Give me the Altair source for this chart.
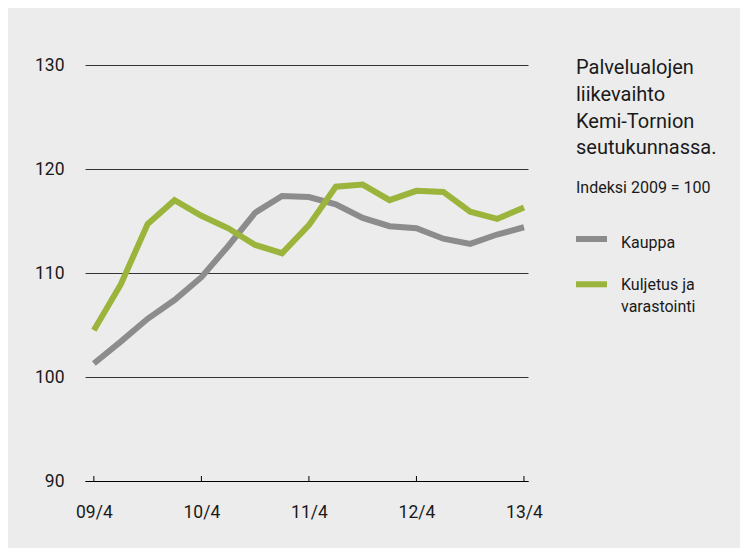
import altair as alt
import pandas as pd

# ---- data ----
quarters = ["09/4", "10/1", "10/2", "10/3", "10/4", "11/1", "11/2", "11/3", "11/4",
            "12/1", "12/2", "12/3", "12/4", "13/1", "13/2", "13/3", "13/4"]
kauppa = [101.3, 103.4, 105.6, 107.4, 109.6, 112.6, 115.8, 117.4, 117.3,
          116.6, 115.3, 114.5, 114.3, 113.3, 112.8, 113.7, 114.4]
kuljetus = [104.5, 108.9, 114.7, 117.0, 115.5, 114.3, 112.7, 111.9, 114.6,
            118.3, 118.5, 117.0, 117.9, 117.8, 115.9, 115.2, 116.3]
series = ["Kauppa", "Kuljetus ja varastointi"]
colors = ["#8c8c8c", "#9bb43b"]
y_ticks = [90, 100, 110, 120, 130]
x_tick_idx = [0, 4, 8, 12, 16]
heading = ["Palvelualojen", "liikevaihto", "Kemi-Tornion", "seutukunnassa."]
subtitle = "Indeksi 2009 = 100"
legend_labels = [["Kauppa"], ["Kuljetus ja", "varastointi"]]

FONT = "Roboto, sans-serif"
TXT = "#1a1a1a"
W, H = 443, 416

rows = []
for name, vals in zip(series, [kauppa, kuljetus]):
    for i, (q, v) in enumerate(zip(quarters, vals)):
        rows.append({"idx": i, "quarter": q, "series": name, "value": v})
df = pd.DataFrame(rows)

label_expr = "[" + ",".join("'" + q + "'" for q in quarters) + "][datum.value]"

x_enc = alt.X("idx:Q",
              scale=alt.Scale(domain=[-0.33, 16.15], nice=False, zero=False),
              axis=alt.Axis(values=x_tick_idx, labelExpr=label_expr, ticks=False,
                            grid=False, domainColor="#000000", domainWidth=1,
                            labelFontSize=17.5, labelPadding=22, labelColor=TXT,
                            title=None))
y_enc = alt.Y("value:Q",
              scale=alt.Scale(domain=[90, 130], nice=False, zero=False),
              axis=alt.Axis(values=y_ticks, grid=True, gridColor="#333333",
                            gridWidth=1, domain=False, ticks=False,
                            labelPadding=21, labelFontSize=17.5, labelColor=TXT,
                            title=None))

lines = alt.Chart(df).mark_line(strokeWidth=6).encode(
    x=x_enc, y=y_enc,
    color=alt.Color("series:N", scale=alt.Scale(domain=series, range=colors), legend=None),
)

ticks = alt.Chart(pd.DataFrame({"idx": x_tick_idx})).mark_rule(
    color="#000000", strokeWidth=1).encode(
    x=alt.X("idx:Q"), y=alt.value(H), y2=alt.value(H - 5))

one = pd.DataFrame({"a": [0]})

title_txt = alt.Chart(one).mark_text(
    align="left", baseline="alphabetic", fontSize=20, lineHeight=26.7, color=TXT
).encode(x=alt.value(491), y=alt.value(9.3), text=alt.value(heading))

sub_txt = alt.Chart(one).mark_text(
    align="left", baseline="alphabetic", fontSize=16, color=TXT
).encode(x=alt.value(491), y=alt.value(128.3), text=alt.value(subtitle))

sw1 = alt.Chart(one).mark_rule(color=colors[0], strokeWidth=6).encode(
    x=alt.value(491), x2=alt.value(522), y=alt.value(174))
sw2 = alt.Chart(one).mark_rule(color=colors[1], strokeWidth=6).encode(
    x=alt.value(491), x2=alt.value(522), y=alt.value(219.3))

lab1 = alt.Chart(one).mark_text(
    align="left", baseline="alphabetic", fontSize=16, color=TXT
).encode(x=alt.value(536), y=alt.value(183), text=alt.value(legend_labels[0]))
lab2 = alt.Chart(one).mark_text(
    align="left", baseline="alphabetic", fontSize=16, lineHeight=22, color=TXT
).encode(x=alt.value(536), y=alt.value(225), text=alt.value(legend_labels[1]))

chart = alt.layer(lines, ticks, title_txt, sub_txt, sw1, sw2, lab1, lab2).properties(
    width=W, height=H,
    autosize=alt.AutoSizeParams(type="none"),
    padding={"left": 77, "top": 57, "right": 212, "bottom": 67},
    background="#ececec",
).configure_view(stroke=None).configure_axis(
    labelFont=FONT
).configure_text(font=FONT)

chart.save("out.html", embed_options={"renderer": "svg", "actions": False})
